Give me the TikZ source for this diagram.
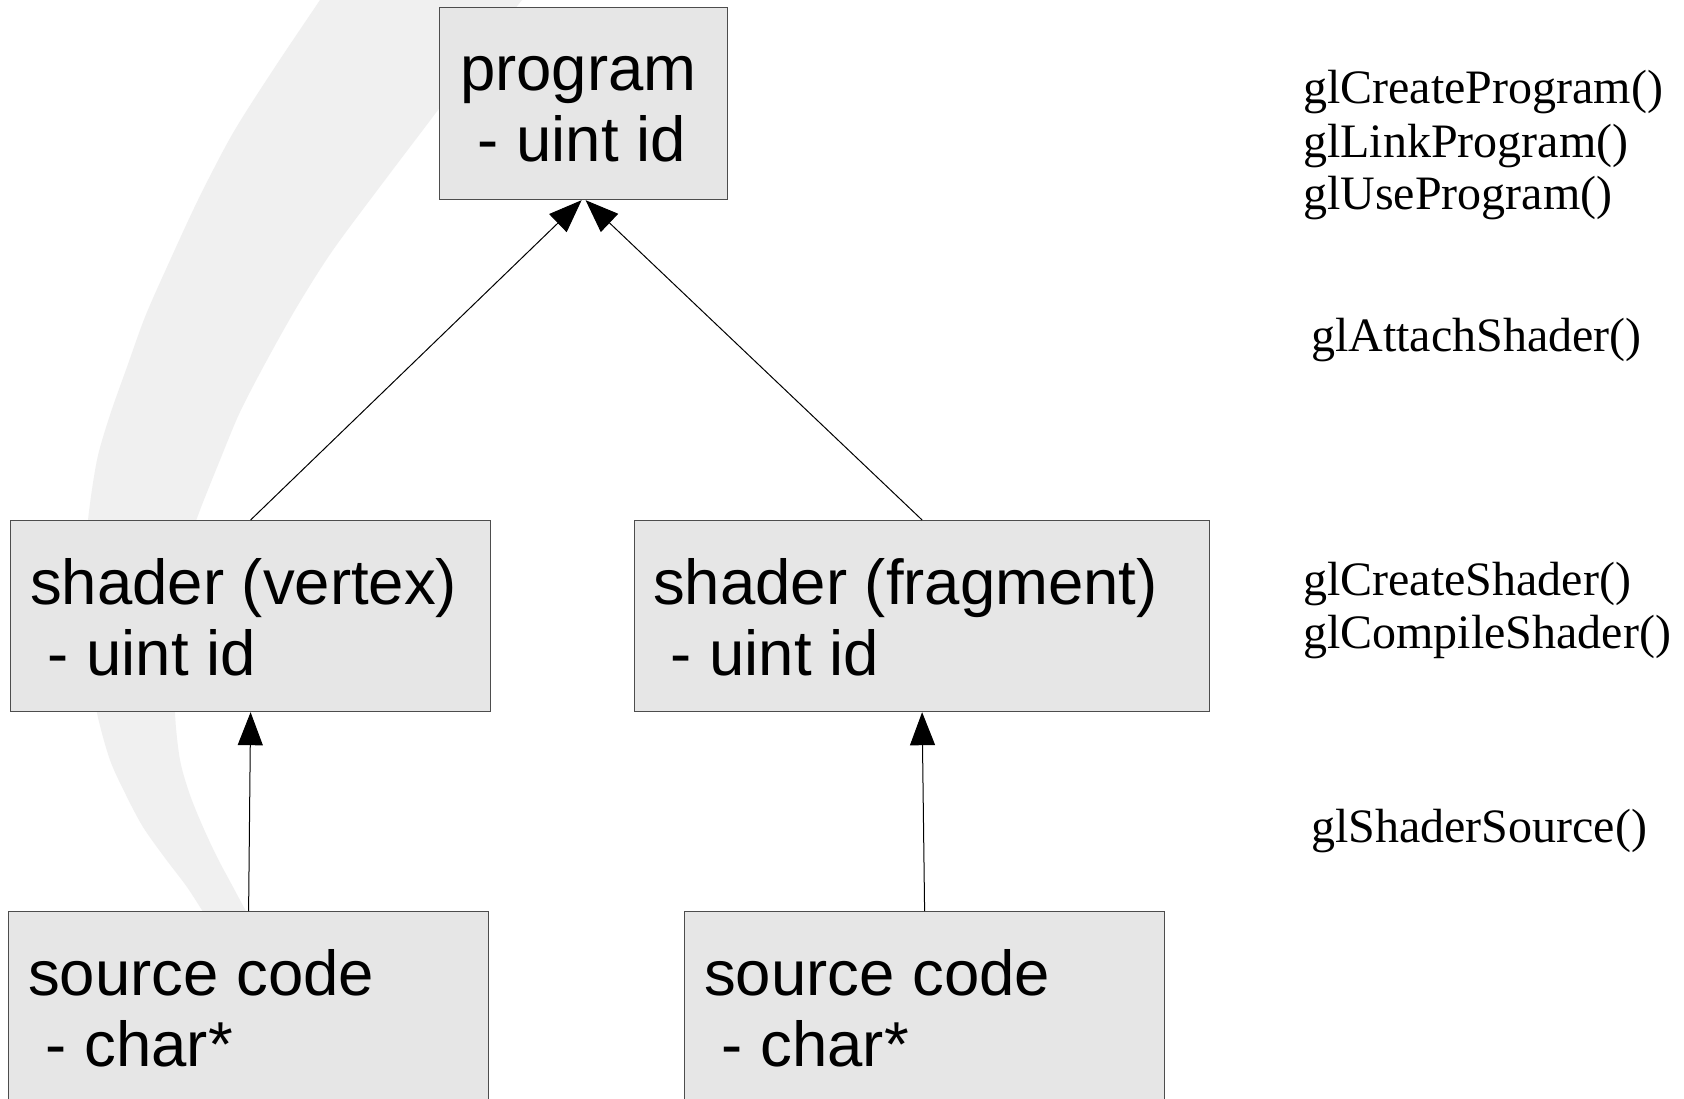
\documentclass[tikz,border=0pt]{standalone}
\usepackage{fontspec}
\setmainfont{Liberation Serif}
\newfontfamily\boxfont{Liberation Sans}
\usetikzlibrary{arrows.meta}
\definecolor{boxfill}{HTML}{E6E6E6}
\definecolor{boxline}{HTML}{4D4D4D}
\definecolor{bandgray}{HTML}{F0F0F0}
\begin{document}
\begin{tikzpicture}[x=1pt,y=-1pt,
  box/.style={draw=boxline, fill=boxfill, line width=1.2pt, inner sep=0pt, anchor=north west},
  boxtext/.style={anchor=base west, inner sep=0pt, font=\boxfont\fontsize{63.5}{71}\selectfont},
  apitext/.style={anchor=base west, inner sep=0pt, font=\fontsize{48}{53}\selectfont},
  conn/.style={line width=1pt, -{Triangle[length=33pt,width=25pt]}}]
\useasboundingbox (0,0) rectangle (1684,1099);
\clip (0,0) rectangle (1684,1099);
\fill[white] (0,0) rectangle (1684,1099);
% background band
\fill[bandgray] plot[smooth] coordinates {(333,-20) (320,0) (275,67) (233,133) (198,200) (167,267) (145,317) (127,367) (110,415) (97,460) (88,520) (84,580) (86,650) (97,713) (110,760) (126,795) (143,827) (165,858) (187,887) (205,915)}
  -- plot[smooth] coordinates {(248,915) (233,887) (217,857) (203,827) (190,795) (180,760) (175,713) (175,650) (180,590) (190,540) (200,510) (220,460) (240,412) (267,360) (298,305) (333,250) (385,180) (438,110) (490,40) (522,0) (537,-20)} -- cycle;
% boxes
\node[box, minimum width=288pt, minimum height=192pt] (prog) at (439,7) {};
\node[box, minimum width=480pt, minimum height=191pt] (shv) at (10,520) {};
\node[box, minimum width=575pt, minimum height=191pt] (shf) at (634,520) {};
\node[box, minimum width=480pt, minimum height=220pt] (srcl) at (8,911) {};
\node[box, minimum width=480pt, minimum height=220pt] (srcr) at (684,911) {};
% box texts
\node[boxtext] (progt1) at (460,91) {program};
\node[boxtext] (progt2) at (460,162) {\ - uint id};
\node[boxtext] (shvt1) at (30,604) {shader (vertex)};
\node[boxtext] (shvt2) at (30,675) {\ - uint id};
\node[boxtext] (shft1) at (653,604) {shader (fragment)};
\node[boxtext] (shft2) at (653,675) {\ - uint id};
\node[boxtext] (srclt1) at (28,995) {source code};
\node[boxtext] (srclt2) at (28,1066) {\ - char*};
\node[boxtext] (srcrt1) at (704,995) {source code};
\node[boxtext] (srcrt2) at (704,1066) {\ - char*};
% connectors
\draw[conn] (shv.north) -- ([xshift=-2pt]prog.south);
\draw[conn] (shf.north) -- ([xshift=2pt]prog.south);
\draw[conn] (srcl.north) -- (shv.south);
\draw[conn] (srcr.north) -- (shf.south);
% API calls
\node[apitext] (a1) at (1303,104) {glCreateProgram()};
\node[apitext] (a2) at (1303,158) {glLinkProgram()};
\node[apitext] (a3) at (1303,210) {glUseProgram()};
\node[apitext] (a4) at (1311,351) {glAttachShader()};
\node[apitext] (a5) at (1303,595) {glCreateShader()};
\node[apitext] (a6) at (1303,648) {glCompileShader()};
\node[apitext] (a7) at (1311,842) {glShaderSource()};
\end{tikzpicture}
\end{document}
